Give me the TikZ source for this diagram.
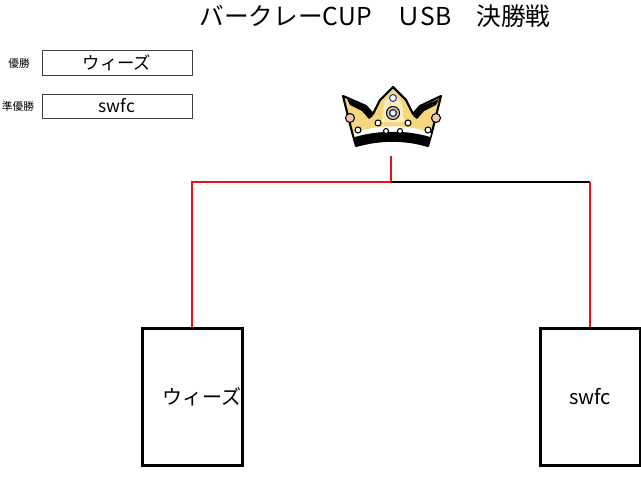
\documentclass[tikz,border=0pt]{standalone}
\usepackage{fontspec}
\setmainfont{Noto Sans CJK JP}
\usepackage{xcolor}
\usepackage{tikz}
\definecolor{bracketred}{RGB}{225, 20, 30}
\definecolor{crowngold}{RGB}{245, 215, 125}
\definecolor{crownlight}{RGB}{252, 240, 195}
\definecolor{pearlpeach}{RGB}{242, 200, 170}
\definecolor{jewelblue}{RGB}{40, 60, 160}
\usetikzlibrary{positioning, calc}

\begin{document}
\begin{tikzpicture}[
    x=0.75pt, y=-0.75pt,
    namebox/.style={rectangle, draw=black!75, line width=0.75pt, minimum width=112.5pt, minimum height=18pt, inner sep=0pt, font=\fontsize{13}{13}\selectfont},
    rankname/.style={font=\fontsize{8}{8}\selectfont, inner sep=0pt},
    teambox/.style={rectangle, draw=black, line width=2.25pt, minimum width=75pt, minimum height=102.75pt, inner sep=0pt, font=\fontsize{15}{15}\selectfont},
    redline/.style={bracketred, line width=1.5pt},
    blackline/.style={black, line width=1.5pt},
    crownline/.style={draw=black, line width=1.6pt, line join=round},
    pearl/.style={draw=black, line width=0.8pt, fill=white}
]
    \useasboundingbox (0,0) rectangle (641,478);

    % title
    \node[font=\fontsize{18.5}{18.5}\selectfont, inner sep=0pt] (title) at (375,16) {バークレーCUP　ＵSB　決勝戦};

    % result boxes
    \node[namebox] (champ) at (117,63) {ウィーズ};
    \node[namebox] (runner) at (117,106) {swfc};
    \node[rankname] (champlabel) at (19,63) {優勝};
    \node[rankname] (runnerlabel) at (18,106) {準優勝};

    % crown
    \path[crownline, fill=crowngold] (343,96) -- (366,106) -- (373,114) -- (380,100) -- (393,87) -- (406,100) -- (413,114) -- (420,106) -- (441,96) -- (432,132) -- (428,146) .. controls (405,139) and (380,139) .. (356,146) -- (352,132) -- cycle;
    \fill[crownlight] (384,103) -- (393,93) -- (402,103) -- (404,122) -- (382,122) -- cycle;
    \fill[black] (347,99) -- (366,107) -- (373,116) -- (369,119) -- (362,111) -- (350,105) -- cycle;
    \fill[black] (439,99) -- (420,107) -- (413,116) -- (417,119) -- (424,111) -- (436,105) -- cycle;
    \fill[white] (354,133) .. controls (378,124) and (408,124) .. (431,133) -- (430,137) .. controls (407,130) and (379,130) .. (355,137) -- cycle;
    \fill[black] (355,137) .. controls (379,130) and (407,130) .. (430,137) -- (428,146) .. controls (405,139) and (380,139) .. (356,146) -- cycle;
    \path[pearl, fill=pearlpeach] (350,118) circle[radius=4.5];
    \path[pearl, fill=pearlpeach] (436,118) circle[radius=4.5];
    \path[pearl] (358,130) circle[radius=3];
    \path[pearl] (428,130) circle[radius=3];
    \path[pearl] (378,123) circle[radius=3];
    \path[pearl] (408,123) circle[radius=3];
    \path[pearl] (386,131) circle[radius=2.5];
    \path[pearl] (400,131) circle[radius=2.5];
    \path[pearl, draw=jewelblue] (393,98) circle[radius=3.5];
    \path[draw=black, line width=0.8pt, fill=crowngold] (393,113) circle[radius=6.5];
    \path[draw=jewelblue, line width=1.2pt, fill=white] (393,113) circle[radius=3.5];

    % finalists
    \node[teambox] (teamA) at (192,397) {\hspace{15pt}ウィーズ};
    \node[teambox] (teamB) at (590,397) {swfc};

    % bracket
    \coordinate (crownfoot) at (391,156);
    \coordinate (join) at (391,182);
    \coordinate (cornerB) at (join -| teamB.north);
    \draw[redline] (crownfoot) -- (join) -| (teamA.north);
    \draw[blackline] (join) -- (cornerB);
    \draw[redline] (cornerB) -- (teamB.north);
\end{tikzpicture}
\end{document}
